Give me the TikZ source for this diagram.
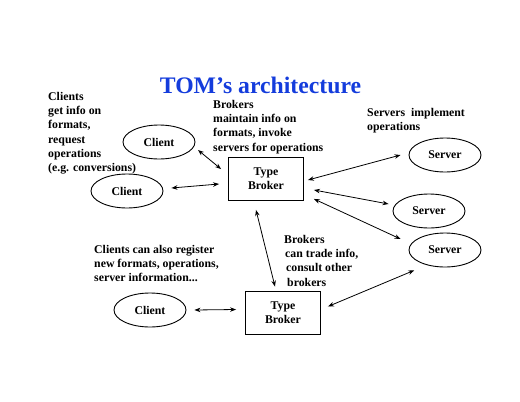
\documentclass[tikz,border=0pt]{standalone}
\usepackage{fontspec}
\setmainfont{Liberation Serif}
\usetikzlibrary{arrows.meta,shapes.geometric}
\definecolor{titleblue}{RGB}{20,60,220}
\begin{document}
\begin{tikzpicture}[x=1pt,y=-1pt,
  every node/.style={font=\fontsize{11.8}{14.3}\selectfont\bfseries, inner sep=0pt},
  oval/.style={draw, line width=0.9pt, ellipse, minimum width=72pt, minimum height=34pt},
  brokerbox/.style={draw, line width=0.9pt, rectangle, minimum width=75pt, minimum height=43pt, align=center},
  note/.style={anchor=north west, align=left},
  arr/.style={line width=0.8pt, {Stealth[length=6pt,width=4.5pt]}-{Stealth[length=6pt,width=4.5pt]}}]
\useasboundingbox (0,0) rectangle (520,402);
\node[anchor=base, font=\fontsize{23.7}{26}\selectfont\bfseries, text=titleblue] (title) at (260.5,93) {TOM’s architecture};

\node[note] (n1) at (48,92) {Clients\\get info on\\formats,\\request\\operations\\(e.g. conversions)};
\node[note] (n2) at (213,100) {Brokers\\maintain info on\\formats, invoke\\servers for operations};
\node[note] (n3) at (367,108) {Servers\ \ implement\\operations};
\node[note] (n4) at (94,245) {Clients can also register\\new formats, operations,\\server information...};
\node[note] (n5) at (284,235) {Brokers\\\hspace*{1pt}can trade info,\\\hspace*{2pt}consult other\\\hspace*{3pt}brokers};

\node[oval] (c1) at (159,142) {Client};
\node[oval] (c2) at (127,191) {Client};
\node[oval] (c3) at (150,310) {Client};
\node[brokerbox] (tb1) at (266,179) {Type\\Broker};
\node[brokerbox] (tb2) at (283,312.5) {Type\\Broker};
\node[oval] (s1) at (445,155) {Server};
\node[oval] (s2) at (429,211) {Server};
\node[oval] (s3) at (445,250) {Server};

\draw[arr] ([shift={(39,8)}]c1.center) -- ([shift={(-7,12)}]tb1.north west);
\draw[arr] ([shift={(8,-3)}]c2.east) -- ([shift={(-9,5)}]tb1.west);
\draw[arr] ([shift={(4,1)}]tb1.east) -- ([shift={(-8,0)}]s1.west);
\draw[arr] ([shift={(10,11)}]tb1.east) -- ([shift={(-4,-7)}]s2.west);
\draw[arr] ([shift={(10,-2)}]tb1.south east) -- ([shift={(-8,-11)}]s3.west);
\draw[arr] ([shift={(-10,9)}]tb1.south) -- ([shift={(-8,-4)}]tb2.north);
\draw[arr] ([shift={(8,0)}]c3.east) -- ([shift={(-9,-3)}]tb2.west);
\draw[arr] ([shift={(7,-6)}]tb2.east) -- ([shift={(-5,8)}]s3.south west);
\end{tikzpicture}
\end{document}
